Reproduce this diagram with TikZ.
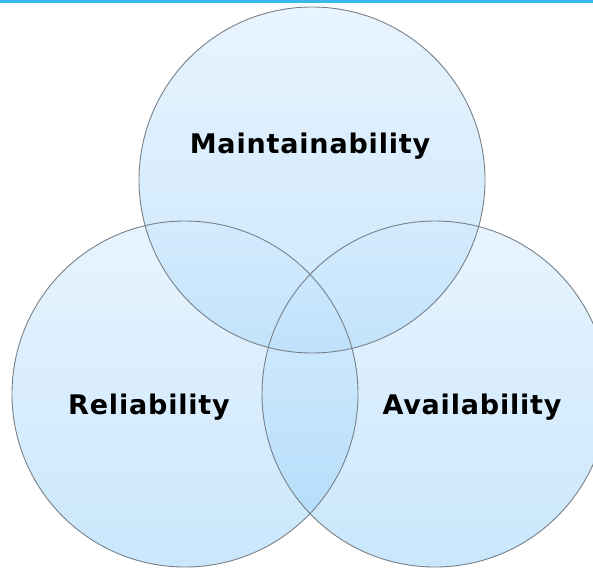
\documentclass[tikz,border=0pt]{standalone}
\usepackage{fontspec}
\newfontfamily\vennfont[LetterSpace=3]{DejaVu Sans}
\usetikzlibrary{calc}

\definecolor{rimgray}{RGB}{120,128,136}
\definecolor{topline}{RGB}{58,184,234}
\definecolor{disctop}{RGB}{211,235,255}
\definecolor{discbot}{RGB}{150,208,250}

\tikzset{
	disc/.style = {top color=disctop, bottom color=discbot, fill opacity=0.5},
	rim/.style = {draw=rimgray, line width=0.9pt},
	label/.style = {font=\vennfont\bfseries\fontsize{27}{31}\selectfont, text=black, inner sep=0pt}
}

\begin{document}
\begin{tikzpicture}[x=1pt, y=-1pt]
	\useasboundingbox (0,0) rectangle (593,568);
	\clip (0,0) rectangle (593,568);
	\fill[white] (0,0) rectangle (593,568);

	\coordinate (m) at (312, 180);
	\coordinate (r) at (185, 394);
	\coordinate (a) at (435, 394);

	\shade[disc] (m) circle (173);
	\shade[disc] (r) circle (173);
	\shade[disc] (a) circle (173);
	\draw[rim] (m) circle (173);
	\draw[rim] (r) circle (173);
	\draw[rim] (a) circle (173);

	\fill[topline] (0,0) rectangle (593,3);

	\node[label] (maint) at (310, 146) {Maintainability};
	\node[label] (rel) at (149, 407) {Reliability};
	\node[label] (avail) at (472, 407) {Availability};
\end{tikzpicture}
\end{document}
